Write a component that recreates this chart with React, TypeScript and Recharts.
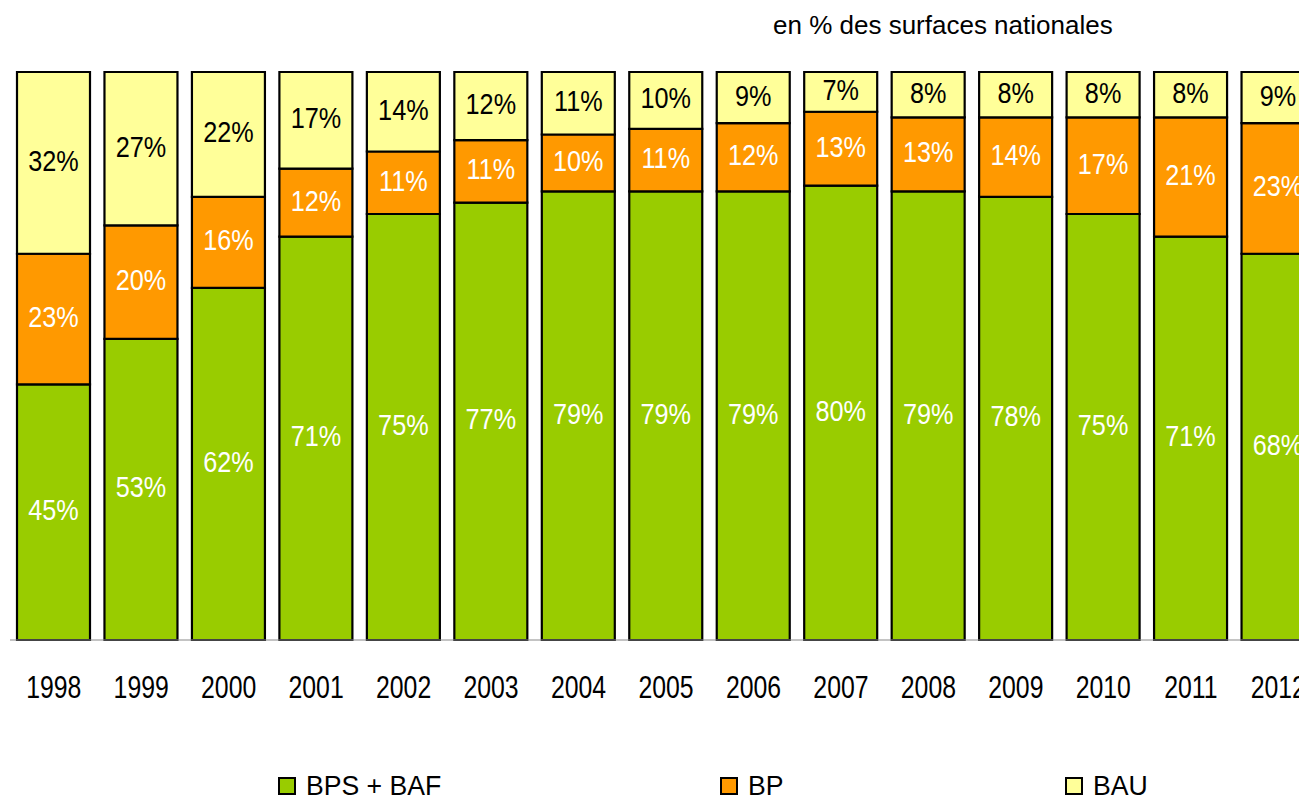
import React from 'react';
import { BarChart, Bar, XAxis, YAxis, LabelList } from 'recharts';

// share of national surface, per year (bottom to top: BPS + BAF, BP, BAU)
const years = ['1998', '1999', '2000', '2001', '2002', '2003', '2004', '2005', '2006', '2007', '2008', '2009', '2010', '2011', '2012'];
const bpsBaf = [45, 53, 62, 71, 75, 77, 79, 79, 79, 80, 79, 78, 75, 71, 68];
const bp = [23, 20, 16, 12, 11, 11, 10, 11, 12, 13, 13, 14, 17, 21, 23];
const bau = [32, 27, 22, 17, 14, 12, 11, 10, 9, 7, 8, 8, 8, 8, 9];

const seriesNames = ['BPS + BAF', 'BP', 'BAU'];
const seriesColors = ['#99CC00', '#FF9900', '#FFFF99'];
const labelColors = ['#ffffff', '#ffffff', '#000000'];

const data = years.map((year, i) => ({
    year,
    bpsBaf: bpsBaf[i],
    bp: bp[i],
    bau: bau[i],
}));

const FONT = '"Liberation Sans", Arial, sans-serif';

const YearTick = (props: any) => {
    const { x, y, payload } = props;
    return (
        <text
            x={x}
            y={y + 58}
            textAnchor="middle"
            fontFamily={FONT}
            fontSize={31}
            fill="#000"
            transform={`translate(${x} 0) scale(0.8 1) translate(${-x} 0)`}
        >
            {payload.value}
        </text>
    );
};

const makeLabel = (color: string) => (props: any) => {
    const { x, y, width, height, value } = props;
    const cx = x + width / 2;
    const cy = y + height / 2 + 8;
    return (
        <text
            x={cx}
            y={cy}
            textAnchor="middle"
            fontFamily={FONT}
            fontSize={29}
            fill={color}
            transform={`translate(${cx} 0) scale(0.87 1) translate(${-cx} 0)`}
        >
            {value}%
        </text>
    );
};

const legendX = [278, 720, 1065];

export default function App() {
    const keys = ['bpsBaf', 'bp', 'bau'];
    return (
        <div style={{ position: 'absolute', left: 0, top: 0, width: 1299, height: 797, overflow: 'hidden', background: '#fff' }}>
            <div style={{ position: 'absolute', left: 773, top: 12, fontFamily: FONT, fontSize: 26, lineHeight: 1, whiteSpace: 'nowrap' }}>
                en % des surfaces nationales
            </div>
            <BarChart
                width={1340}
                height={797}
                data={data}
                margin={{ top: 72, right: 18, bottom: 127, left: 10 }}
                barSize={73}
            >
                <YAxis hide domain={[0, 100]} />
                <XAxis
                    dataKey="year"
                    height={30}
                    axisLine={{ stroke: '#888888', strokeWidth: 1 }}
                    tickLine={false}
                    tickSize={0}
                    tickMargin={0}
                    tick={<YearTick />}
                    interval={0}
                />
                {keys.map((k, i) => (
                    <Bar
                        key={k}
                        dataKey={k}
                        stackId="a"
                        fill={seriesColors[i]}
                        stroke="#000"
                        strokeWidth={2.2}
                        isAnimationActive={false}
                    >
                        <LabelList dataKey={k} content={makeLabel(labelColors[i])} />
                    </Bar>
                ))}
            </BarChart>
            {seriesNames.map((name, i) => (
                <div key={name} style={{ position: 'absolute', left: legendX[i], top: 772, display: 'flex', alignItems: 'center', fontFamily: FONT, fontSize: 28, lineHeight: 1, whiteSpace: 'nowrap' }}>
                    <span style={{ display: 'inline-block', width: 14, height: 14, border: '2px solid #000', background: seriesColors[i], marginRight: 10 }} />
                    <span style={{ display: 'inline-block', transform: 'scaleX(0.95)', transformOrigin: 'left center' }}>{name}</span>
                </div>
            ))}
        </div>
    );
}
